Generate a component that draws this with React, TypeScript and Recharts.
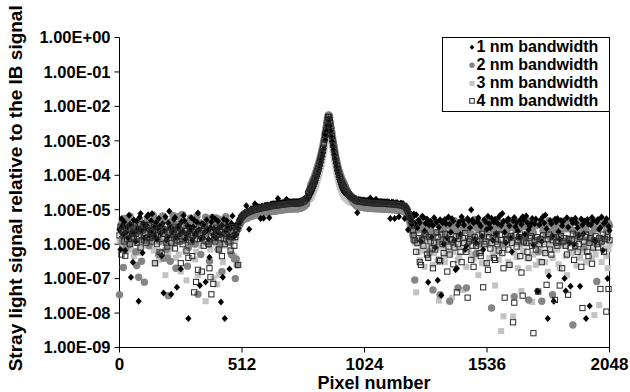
import React from 'react';
import { ScatterChart, Scatter, XAxis, YAxis, Legend, ReferenceLine } from 'recharts';

// Pixel numbers (x) shared by the four series
const pixelNumbers = [
  0, 4, 8, 12, 16, 20, 24, 28, 32, 36, 40,
  44, 48, 52, 56, 60, 64, 68, 72, 76, 80, 84,
  88, 92, 96, 100, 104, 108, 112, 116, 120, 124, 128,
  132, 136, 140, 144, 148, 152, 156, 160, 164, 168, 172,
  176, 180, 184, 188, 192, 196, 200, 204, 208, 212, 216,
  220, 224, 228, 232, 236, 240, 244, 248, 252, 256, 260,
  264, 268, 272, 276, 280, 284, 288, 292, 296, 300, 304,
  308, 312, 316, 320, 324, 328, 332, 336, 340, 344, 348,
  352, 356, 360, 364, 368, 372, 376, 380, 384, 388, 392,
  396, 400, 404, 408, 412, 416, 420, 424, 428, 432, 436,
  440, 444, 448, 452, 456, 460, 464, 468, 472, 476, 480,
  484, 488, 492, 496, 500, 504, 508, 512, 516, 520, 524,
  530, 536, 542, 548, 554, 560, 566, 572, 578, 584, 590,
  596, 602, 608, 614, 620, 626, 632, 638, 644, 650, 656,
  662, 668, 674, 680, 686, 692, 698, 704, 710, 716, 722,
  728, 734, 740, 746, 752, 758, 764, 770, 776, 782,
  788, 791, 794, 797, 800, 803, 806, 809, 812, 815,
  818, 821, 824, 827, 830, 833, 836, 839, 842, 845,
  848, 851, 854, 857, 860, 863, 866, 869, 872,
  874,
  876, 879, 882, 885, 888, 891, 894, 897, 900, 903, 906,
  909, 912, 915, 918, 921, 924, 927, 930, 933, 936, 939,
  944, 949, 954, 959, 964, 969, 974, 979, 984, 989, 994,
  1000, 1006, 1012, 1018, 1024, 1030, 1036, 1042, 1048, 1054, 1060, 1066,
  1072, 1078, 1084, 1090, 1096, 1102, 1108, 1114, 1120, 1126, 1132, 1138,
  1144, 1150, 1156, 1162, 1168, 1174, 1180, 1186, 1192, 1198,
  1202, 1206, 1210, 1214, 1218, 1222, 1226, 1230, 1234,
  1240, 1245, 1250, 1255, 1260, 1265, 1270, 1275, 1280, 1285,
  1290, 1295, 1300, 1305, 1310, 1315, 1320, 1325, 1330, 1335,
  1340, 1345, 1350, 1355, 1360, 1365, 1370, 1375, 1380, 1385,
  1390, 1395, 1400, 1405, 1410, 1415, 1420, 1425, 1430, 1435,
  1440, 1445, 1450, 1455, 1460, 1465, 1470, 1475, 1480, 1485,
  1490, 1495, 1500, 1505, 1510, 1515, 1520, 1525, 1530, 1535,
  1540, 1545, 1550, 1555, 1560, 1565, 1570, 1575, 1580, 1585,
  1590, 1595, 1600, 1605, 1610, 1615, 1620, 1625, 1630, 1635,
  1640, 1645, 1650, 1655, 1660, 1665, 1670, 1675, 1680, 1685,
  1690, 1695, 1700, 1705, 1710, 1715, 1720, 1725, 1730, 1735,
  1740, 1745, 1750, 1755, 1760, 1765, 1770, 1775, 1780, 1785,
  1790, 1795, 1800, 1805, 1810, 1815, 1820, 1825, 1830, 1835,
  1840, 1845, 1850, 1855, 1860, 1865, 1870, 1875, 1880, 1885,
  1890, 1895, 1900, 1905, 1910, 1915, 1920, 1925, 1930, 1935,
  1940, 1945, 1950, 1955, 1960, 1965, 1970, 1975, 1980, 1985,
  1990, 1995, 2000, 2005, 2010, 2015, 2020, 2025, 2030, 2035,
  2040, 2044, 2048,
];

// 1 nm bandwidth
const bandwidth1nm = [
  2.6e-6, 7.0e-7, 5.5e-6, 3.4e-6, 1.9e-6, 4.4e-6, 6.5e-7, 2.2e-6, 3.1e-6, 1.5e-6, 6.9e-6,
  3.8e-6, 1.1e-7, 2.0e-6, 3.0e-7, 5.0e-6, 2.2e-6, 1.2e-6, 4.6e-6, 2.8e-6, 2.2e-8, 6.0e-6,
  7.8e-6, 2.5e-6, 5.6e-7, 4.0e-6, 1.5e-6, 2.9e-6, 3.6e-6, 6.4e-6, 7.2e-6, 1.8e-6, 2.4e-6,
  4.8e-6, 7.6e-6, 2.0e-6, 1.7e-6, 3.2e-6, 4.2e-6, 1.4e-6, 2.9e-6, 5.6e-6, 3.3e-6, 2.1e-6,
  4.6e-7, 3.9e-6, 3.8e-8, 2.5e-6, 6.2e-6, 1.3e-6, 1.6e-6, 4.1e-6, 9.0e-6, 3.0e-6, 3.5e-8,
  2.3e-6, 2.7e-6, 5.2e-6, 5.9e-6, 1.6e-6, 5.6e-8, 3.1e-6, 3.4e-6, 1.9e-6, 1.9e-7, 4.5e-6,
  2.3e-6, 6.8e-6, 4.8e-6, 1.4e-6, 1.9e-6, 3.5e-6, 7.0e-9, 2.4e-6, 3.0e-6, 5.8e-6, 1.3e-6,
  3.2e-6, 5.0e-6, 1.8e-6, 2.1e-6, 4.3e-6, 8.0e-6, 2.6e-6, 6.3e-8, 1.5e-6, 3.9e-6, 1.6e-6,
  3.7e-6, 2.2e-6, 8.0e-8, 5.1e-6, 2.6e-6, 1.4e-6, 4.2e-7, 3.0e-6, 4.4e-6, 6.1e-6, 1.8e-6,
  2.7e-6, 5.4e-6, 1.5e-6, 2.3e-6, 4.6e-6, 3.0e-6, 1.9e-6, 2.1e-8, 3.5e-6, 1.1e-7, 5.3e-6,
  7.0e-9, 2.4e-6, 4.8e-6, 3.3e-6, 1.7e-6, 1.9e-7, 2.9e-6, 4.0e-6, 6.6e-6, 1.6e-6, 2.0e-6,
  3.5e-6, 1.9e-6, 4.0e-6, 2.9e-6, 5.2e-6, 4.4e-6, 6.6e-6, 6.0e-6, 7.5e-6, 7.0e-6, 8.4e-6,
  1.3e-5, 9.5e-6, 2.7e-6, 1.05e-5, 1.07e-5, 1.13e-5, 1.5e-5, 1.17e-5, 1.21e-5, 1.23e-5, 5.6e-6,
  1.29e-5, 5.7e-6, 1.35e-5, 1.35e-5, 1.38e-5, 5.8e-6, 1.45e-5, 1.48e-5, 1.48e-5, 1.52e-5, 1.52e-5,
  2.1e-5, 1.59e-5, 1.59e-5, 1.62e-5, 1.62e-5, 1.67e-5, 2.0e-5, 1.7e-5, 1.7e-5, 1.7e-5, 1.7e-5,
  1.74e-5, 1.74e-5, 1.74e-5, 1.74e-5, 1.78e-5, 1.82e-5, 1.91e-5, 2.0e-5, 2.14e-5, 2.4e-5,
  2.1e-5, 2.3e-5, 2.5e-5, 2.75e-5, 3.0e-5, 3.3e-5, 3.7e-5, 4.2e-5, 4.7e-5, 5.4e-5,
  6.1e-5, 7.1e-5, 8.3e-5, 9.5e-5, 1.12e-4, 1.32e-4, 1.58e-4, 1.9e-4, 2.34e-4, 2.9e-4,
  3.5e-4, 4.5e-4, 5.9e-4, 1.66e-3, 1.05e-3, 1.41e-3, 2.0e-3, 2.8e-3, 4.0e-3,
  4.4e-3,
  4.0e-3, 2.75e-3, 1.9e-3, 1.34e-3, 9.8e-4, 7.2e-4, 5.4e-4, 4.0e-4, 3.0e-4, 2.29e-4, 1.78e-4,
  1.38e-4, 1.1e-4, 9.1e-5, 7.6e-5, 6.5e-5, 5.6e-5, 4.9e-5, 4.3e-5, 3.9e-5, 3.5e-5, 3.2e-5,
  3.0e-5, 2.75e-5, 2.6e-5, 2.43e-5, 2.34e-5, 2.26e-5, 2.22e-5, 2.18e-5, 2.14e-5, 2.07e-5, 8.1e-6,
  2.0e-5, 1.96e-5, 1.93e-5, 1.91e-5, 1.89e-5, 1.86e-5, 1.84e-5, 1.82e-5, 2.2e-5, 1.78e-5, 1.78e-5, 1.78e-5,
  2.0e-5, 1.74e-5, 1.74e-5, 1.74e-5, 1.73e-5, 1.7e-5, 1.7e-5, 1.7e-5, 1.69e-5, 1.67e-5, 5.6e-6, 1.67e-5,
  1.64e-5, 5.6e-6, 1.61e-5, 1.59e-5, 6.3e-6, 1.55e-5, 1.53e-5, 1.48e-5, 5.6e-6, 1.29e-5,
  1.05e-5, 2.6e-6, 7.8e-6, 6.3e-6, 5.0e-6, 3.7e-6, 6.0e-6, 7.5e-6, 4.0e-6,
  7.2e-6, 3.0e-6, 5.0e-6, 4.2e-6, 1.2e-6, 6.5e-6, 6.0e-6, 2.4e-6, 4.0e-6, 5.4e-6,
  7.9e-8, 3.6e-6, 4.6e-6, 1.6e-6, 3.5e-6, 5.8e-6, 8.0e-7, 4.3e-6, 8.9e-8, 3.1e-6,
  5.1e-6, 3.3e-8, 4.2e-6, 1.0e-6, 5.2e-6, 3.9e-6, 1.5e-6, 6.1e-6, 3.8e-6, 2.2e-6,
  5.5e-6, 4.7e-6, 1.3e-6, 1.8e-7, 2.0e-7, 3.6e-6, 4.4e-6, 1.9e-6, 6.3e-6, 4.9e-6,
  3.6e-6, 7.0e-7, 9.0e-7, 5.6e-6, 4.8e-6, 3.0e-6, 1.0e-5, 5.0e-6, 4.1e-6, 1.4e-6,
  1.1e-6, 4.6e-6, 5.8e-6, 3.8e-6, 3.3e-6, 1.7e-6, 6.9e-7, 5.2e-6, 4.5e-6, 2.7e-6,
  6.5e-6, 3.9e-6, 3.0e-6, 5.7e-6, 1.3e-6, 4.4e-6, 5.3e-6, 2.0e-6, 4.0e-6, 6.0e-6,
  6.8e-6, 3.5e-6, 7.8e-6, 4.6e-6, 2.2e-6, 1.1e-6, 4.7e-6, 5.5e-6, 3.4e-6, 1.5e-6,
  6.0e-7, 4.8e-6, 5.9e-6, 3.2e-6, 4.3e-6, 2.4e-6, 1.6e-6, 5.0e-6, 3.7e-6, 6.2e-6,
  5.1e-6, 1.9e-6, 6.6e-6, 4.2e-6, 2.6e-6, 3.3e-6, 4.0e-6, 5.6e-6, 9.5e-7, 3.9e-6,
  5.4e-6, 4.4e-8, 4.2e-8, 3.6e-6, 5.0e-6, 1.2e-6, 6.3e-6, 4.1e-6, 7.0e-6, 2.8e-6,
  7.0e-9, 1.2e-7, 4.8e-6, 3.9e-6, 1.7e-6, 2.2e-8, 5.3e-6, 4.4e-6, 5.6e-6, 2.3e-6,
  1.4e-6, 4.9e-6, 3.4e-6, 4.6e-6, 1.0e-7, 4.4e-8, 5.8e-6, 3.1e-6, 1.1e-6, 6.0e-8,
  5.0e-6, 4.2e-6, 1.0e-6, 5.7e-6, 4.1e-6, 3.0e-6, 1.8e-6, 6.0e-8, 5.4e-6, 3.6e-6,
  2.0e-6, 4.7e-6, 7.0e-9, 5.2e-6, 3.8e-6, 1.6e-8, 3.6e-6, 5.9e-6, 4.8e-6, 1.3e-6,
  1.2e-6, 4.5e-6, 5.2e-6, 2.7e-6, 3.0e-6, 6.1e-6, 6.5e-7, 4.0e-6, 4.3e-6, 5.5e-6,
  1.0e-7, 3.3e-6, 2.5e-6,
];

// 2 nm bandwidth
const bandwidth2nm = [
  3.4e-8, 2.8e-6, 3.8e-6, 1.2e-6, 2.1e-7, 5.6e-6, 4.5e-6, 8.0e-7, 2.4e-6, 3.5e-6, 1.0e-6,
  6.5e-6, 5.2e-6, 1.6e-6, 3.0e-6, 4.2e-6, 1.9e-6, 6.0e-7, 2.4e-7, 3.3e-6, 1.1e-7, 5.0e-6,
  2.2e-6, 3.2e-7, 4.0e-6, 1.4e-6, 7.9e-8, 2.6e-6, 2.7e-6, 5.8e-6, 5.0e-6, 9.0e-7, 1.4e-6,
  3.9e-6, 3.3e-6, 7.0e-6, 6.0e-6, 1.7e-6, 2.2e-6, 4.8e-6, 4.4e-6, 5.0e-7, 1.2e-6, 2.9e-6,
  3.6e-6, 6.6e-6, 3.9e-7, 5.5e-6, 2.0e-6, 7.0e-7, 3.9e-7, 3.2e-8, 4.3e-6, 3.2e-7, 1.8e-6,
  4.8e-6, 6.8e-6, 2.9e-6, 1.1e-6, 2.0e-7, 3.7e-6, 6.3e-6, 2.1e-6, 2.5e-6, 5.3e-6, 7.2e-6,
  7.2e-6, 1.3e-6, 1.7e-6, 4.0e-6, 4.1e-6, 2.3e-7, 8.0e-7, 3.4e-6, 5.7e-6, 2.6e-6, 1.9e-6,
  4.5e-6, 5.1e-6, 1.0e-6, 2.7e-6, 6.5e-6, 3.5e-8, 2.3e-6, 4.2e-6, 5.0e-7, 1.5e-6, 3.8e-6,
  3.1e-6, 2.0e-6, 6.1e-6, 4.9e-6, 2.2e-6, 1.0e-6, 3.2e-7, 2.9e-6, 4.6e-6, 6.0e-6, 1.3e-6,
  2.4e-6, 3.7e-6, 5.8e-6, 2.6e-6, 7.0e-7, 5.3e-6, 1.0e-6, 3.5e-6, 1.6e-7, 2.0e-6, 4.0e-6,
  3.3e-6, 6.3e-6, 2.0e-6, 1.2e-6, 4.4e-6, 2.8e-6, 1.1e-6, 5.0e-7, 2.8e-6, 3.1e-6, 3.7e-7,
  1.0e-7, 3.7e-7, 2.5e-7, 2.8e-6, 3.3e-6, 3.8e-6, 4.3e-6, 4.7e-6, 5.0e-6, 5.3e-6, 5.5e-6,
  5.5e-6, 5.8e-6, 6.1e-6, 6.4e-6, 6.5e-6, 6.9e-6, 7.0e-6, 7.1e-6, 7.4e-6, 7.5e-6, 7.7e-6,
  7.8e-6, 8.1e-6, 8.2e-6, 8.2e-6, 8.4e-6, 8.6e-6, 8.8e-6, 9.0e-6, 9.0e-6, 9.2e-6, 9.2e-6,
  9.5e-6, 9.7e-6, 9.7e-6, 9.9e-6, 9.9e-6, 1.02e-5, 1.02e-5, 1.04e-5, 1.04e-5, 1.04e-5, 1.04e-5,
  1.06e-5, 1.06e-5, 1.06e-5, 1.06e-5, 1.09e-5, 1.11e-5, 1.16e-5, 1.22e-5, 1.3e-5, 1.46e-5,
  2.2e-5, 2.8e-5, 3.5e-5, 4.4e-5, 5.3e-5, 5.8e-5, 6.6e-5, 7.4e-5, 8.3e-5, 9.5e-5,
  1.08e-4, 1.25e-4, 1.47e-4, 1.68e-4, 1.98e-4, 2.3e-4, 2.8e-4, 3.4e-4, 4.1e-4, 5.1e-4,
  6.3e-4, 7.9e-4, 1.04e-3, 1.37e-3, 1.85e-3, 2.5e-3, 3.5e-3, 4.7e-3, 5.5e-3,
  5.6e-3,
  5.5e-3, 4.9e-3, 3.4e-3, 2.4e-3, 1.72e-3, 1.28e-3, 9.5e-4, 7.1e-4, 5.3e-4, 4.0e-4, 3.1e-4,
  2.4e-4, 1.94e-4, 1.6e-4, 1.34e-4, 1.14e-4, 9.9e-5, 8.6e-5, 7.7e-5, 6.9e-5, 6.3e-5, 5.7e-5,
  4.7e-5, 3.9e-5, 3.3e-5, 2.8e-5, 2.34e-5, 2.04e-5, 1.8e-5, 1.6e-5, 1.45e-5, 1.33e-5, 1.25e-5,
  1.22e-5, 1.19e-5, 1.18e-5, 1.16e-5, 1.15e-5, 1.13e-5, 1.12e-5, 1.11e-5, 1.1e-5, 1.09e-5, 1.09e-5, 1.09e-5,
  1.07e-5, 1.06e-5, 1.06e-5, 1.06e-5, 1.05e-5, 1.04e-5, 1.04e-5, 1.04e-5, 1.03e-5, 1.02e-5, 1.02e-5, 1.02e-5,
  1.0e-5, 9.9e-6, 9.8e-6, 9.7e-6, 9.6e-6, 9.5e-6, 9.3e-6, 9.0e-6, 8.6e-6, 7.8e-6,
  7.0e-6, 6.1e-6, 5.2e-6, 4.2e-6, 3.4e-6, 2.5e-6, 1.8e-6, 1.3e-6, 9.1e-8,
  3.2e-6, 4.3e-6, 2.6e-6, 3.0e-6, 5.0e-6, 1.5e-6, 3.8e-6, 1.9e-6, 4.6e-6, 2.9e-6,
  3.6e-6, 6.0e-7, 2.5e-6, 3.9e-6, 4.7e-8, 2.0e-6, 3.9e-6, 4.4e-6, 2.2e-6, 1.2e-6,
  3.4e-8, 4.5e-6, 2.8e-6, 1.3e-6, 3.2e-6, 4.1e-6, 2.0e-6, 5.0e-6, 2.2e-8, 3.4e-6,
  2.7e-6, 1.1e-6, 4.8e-6, 3.0e-6, 2.3e-6, 5.4e-8, 1.8e-6, 4.2e-6, 3.5e-6, 2.5e-6,
  2.4e-6, 4.6e-6, 5.4e-8, 3.1e-6, 4.0e-6, 1.4e-6, 2.0e-6, 3.7e-6, 3.3e-6, 5.2e-6,
  5.3e-7, 2.9e-6, 4.4e-6, 1.0e-6, 2.8e-6, 3.6e-6, 1.5e-6, 4.3e-6, 3.9e-6, 2.1e-6,
  2.3e-6, 4.0e-6, 4.6e-6, 1.4e-8, 2.4e-6, 3.0e-6, 4.8e-6, 2.0e-6, 1.2e-6, 3.4e-6,
  4.2e-6, 2.6e-6, 1.0e-6, 3.8e-6, 3.6e-6, 4.4e-6, 2.5e-6, 1.7e-6, 4.9e-6, 3.1e-6,
  1.7e-6, 4.1e-6, 3.0e-8, 2.7e-6, 3.8e-6, 4.6e-6, 2.6e-6, 1.1e-6, 4.5e-6, 3.2e-6,
  1.2e-6, 3.5e-6, 3.2e-6, 4.7e-6, 2.4e-8, 2.2e-6, 4.1e-6, 2.9e-6, 2.1e-6, 4.0e-6,
  3.4e-6, 1.3e-6, 6.0e-7, 4.2e-6, 4.3e-6, 2.2e-8, 2.5e-6, 2.9e-6, 3.7e-6, 1.8e-6,
  3.9e-6, 4.8e-6, 1.6e-6, 2.4e-6, 3.4e-8, 3.6e-6, 4.4e-6, 1.9e-6, 2.5e-6, 4.0e-6,
  3.6e-6, 2.1e-6, 1.1e-6, 4.3e-6, 4.7e-6, 3.0e-6, 2.8e-6, 1.4e-6, 3.3e-6, 4.9e-6,
  2.6e-6, 4.5e-9, 2.4e-6, 4.6e-6, 4.2e-6, 1.5e-6, 1.9e-6, 3.4e-6, 3.7e-6, 2.2e-6,
  8.0e-7, 3.9e-6, 2.6e-6, 4.4e-6, 4.6e-6, 1.3e-6, 2.0e-6, 3.8e-6, 3.5e-6, 2.7e-6,
  4.7e-6, 8.3e-8, 2.8e-6, 3.3e-6, 4.1e-6, 1.2e-6, 1.5e-6, 4.5e-6, 3.8e-6, 2.4e-6,
  2.3e-6, 4.0e-6, 3.4e-6,
];

// 3 nm bandwidth
const bandwidth3nm = [
  1.3e-6, 2.6e-6, 2.1e-6, 1.0e-6, 9.0e-7, 1.8e-6, 3.0e-6, 6.0e-7, 1.6e-6, 2.2e-6, 2.5e-6,
  1.1e-6, 7.0e-7, 2.0e-6, 1.9e-6, 4.5e-7, 3.4e-6, 1.5e-6, 1.2e-6, 2.7e-6, 2.3e-6, 8.0e-7,
  5.6e-7, 1.4e-6, 1.7e-6, 3.0e-6, 2.8e-6, 9.0e-7, 1.0e-6, 1.6e-6, 2.0e-6, 2.4e-6, 3.2e-6,
  1.2e-6, 1.4e-6, 2.1e-6, 6.5e-7, 1.9e-6, 2.7e-7, 1.1e-6, 2.2e-6, 3.5e-7, 1.5e-6, 2.6e-6,
  3.1e-6, 1.3e-6, 1.1e-6, 2.0e-6, 1.26e-7, 1.7e-6, 2.4e-6, 5.5e-7, 1.6e-6, 1.0e-6, 8.0e-7,
  2.3e-6, 2.9e-6, 1.8e-6, 1.3e-6, 4.0e-7, 2.0e-6, 1.2e-6, 5.0e-7, 2.2e-6, 1.6e-7, 1.5e-6,
  2.6e-6, 3.0e-6, 1.2e-6, 6.0e-7, 8.9e-8, 2.5e-6, 1.8e-6, 1.1e-6, 3.0e-6, 2.1e-6, 1.0e-6,
  1.4e-6, 2.3e-6, 3.6e-7, 6.0e-7, 1.7e-6, 1.26e-7, 2.8e-6, 1.5e-6, 9.0e-7, 2.7e-6, 1.9e-6,
  1.1e-6, 2.4e-6, 2.2e-8, 1.3e-6, 2.0e-6, 2.6e-6, 3.3e-6, 7.0e-7, 1.2e-6, 2.1e-6, 1.0e-7,
  1.6e-6, 2.5e-6, 1.0e-6, 6.8e-8, 2.2e-6, 1.26e-7, 1.4e-6, 1.7e-6, 2.9e-6, 3.0e-7, 1.8e-6,
  9.0e-7, 2.6e-6, 2.1e-6, 1.2e-6, 1.4e-6, 2.4e-6, 3.0e-6, 7.0e-7, 1.8e-6, 2.2e-6, 4.5e-7,
  1.4e-6, 1.9e-6, 2.4e-6, 3.0e-6, 3.6e-6, 4.2e-6, 4.8e-6, 5.2e-6, 5.6e-6, 6.0e-6, 6.2e-6,
  6.5e-6, 6.8e-6, 7.1e-6, 7.5e-6, 7.6e-6, 8.0e-6, 8.2e-6, 8.4e-6, 8.6e-6, 8.8e-6, 9.0e-6,
  9.2e-6, 9.4e-6, 9.6e-6, 9.6e-6, 9.8e-6, 1.01e-5, 1.03e-5, 1.06e-5, 1.06e-5, 1.08e-5, 1.08e-5,
  1.11e-5, 1.13e-5, 1.13e-5, 1.16e-5, 1.16e-5, 1.19e-5, 1.19e-5, 1.21e-5, 1.21e-5, 1.21e-5, 1.21e-5,
  1.24e-5, 1.24e-5, 1.24e-5, 1.24e-5, 1.27e-5, 1.3e-5, 1.36e-5, 1.43e-5, 1.53e-5, 1.71e-5,
  1.96e-5, 2.0e-5, 2.07e-5, 2.1e-5, 2.2e-5, 2.4e-5, 2.7e-5, 3.0e-5, 3.4e-5, 3.9e-5,
  4.5e-5, 5.1e-5, 6.1e-5, 6.9e-5, 8.2e-5, 9.6e-5, 1.15e-4, 1.39e-4, 1.7e-4, 2.1e-4,
  2.6e-4, 3.3e-4, 4.3e-4, 5.6e-4, 7.6e-4, 1.03e-3, 1.45e-3, 2.05e-3, 2.9e-3,
  3.6e-3,
  2.9e-3, 2.0e-3, 1.39e-3, 9.8e-4, 7.1e-4, 5.3e-4, 3.9e-4, 2.9e-4, 2.2e-4, 1.67e-4, 1.3e-4,
  1.0e-4, 8.0e-5, 6.6e-5, 5.5e-5, 4.7e-5, 4.1e-5, 3.6e-5, 3.2e-5, 2.83e-5, 2.59e-5, 2.36e-5,
  2.17e-5, 1.99e-5, 1.87e-5, 1.76e-5, 1.68e-5, 1.62e-5, 1.59e-5, 1.56e-5, 1.53e-5, 1.47e-5, 1.46e-5,
  1.43e-5, 1.39e-5, 1.38e-5, 1.36e-5, 1.34e-5, 1.33e-5, 1.31e-5, 1.3e-5, 1.29e-5, 1.27e-5, 1.27e-5, 1.27e-5,
  1.25e-5, 1.24e-5, 1.24e-5, 1.24e-5, 1.23e-5, 1.21e-5, 1.21e-5, 1.21e-5, 1.21e-5, 1.19e-5, 1.19e-5, 1.19e-5,
  1.17e-5, 1.16e-5, 1.15e-5, 1.13e-5, 1.12e-5, 1.11e-5, 1.09e-5, 1.06e-5, 1.01e-5, 9.2e-6,
  8.2e-6, 7.1e-6, 6.1e-6, 4.9e-6, 3.9e-6, 2.9e-6, 2.0e-6, 1.5e-6, 1.1e-6,
  4.0e-8, 1.0e-6, 6.0e-7, 3.5e-7, 1.4e-6, 9.0e-7, 6.5e-7, 2.2e-7, 2.0e-6, 1.2e-6,
  4.0e-7, 7.5e-7, 1.1e-6, 1.5e-6, 2.5e-7, 5.5e-7, 9.5e-7, 1.3e-6, 3.0e-7, 2.3e-8,
  8.0e-7, 1.2e-6, 1.6e-6, 4.5e-7, 3.0e-7, 7.0e-7, 1.2e-6, 1.0e-6, 5.5e-7, 1.4e-6,
  2.8e-8, 6.0e-7, 9.0e-7, 1.5e-6, 1.8e-6, 3.5e-7, 4.5e-7, 1.1e-6, 8.0e-7, 4.7e-8,
  1.3e-6, 7.0e-7, 2.2e-7, 1.0e-6, 7.0e-7, 1.6e-6, 1.5e-6, 5.0e-7, 3.8e-7, 1.2e-6,
  1.0e-6, 6.0e-7, 1.26e-7, 1.4e-6, 6.0e-7, 2.8e-7, 1.7e-6, 9.0e-7, 2.8e-7, 1.1e-6,
  9.5e-7, 4.0e-7, 1.2e-6, 1.5e-6, 5.0e-7, 7.5e-7, 6.3e-8, 1.3e-6, 1.4e-6, 3.5e-7,
  6.0e-7, 3.0e-9, 1.0e-6, 8.0e-9, 7.5e-7, 1.6e-6, 1.1e-6, 3.0e-7, 2.5e-7, 1.2e-6,
  1.6e-6, 8.0e-9, 5.5e-7, 1.0e-6, 4.2e-7, 2.0e-7, 1.3e-6, 8.5e-7, 4.4e-8, 6.0e-7,
  6.5e-7, 1.4e-6, 1.0e-6, 3.8e-7, 2.0e-7, 1.1e-6, 1.5e-6, 2.1e-8, 5.0e-7, 9.0e-7,
  2.5e-7, 1.2e-6, 1.0e-6, 3.2e-7, 8.5e-7, 1.4e-6, 1.6e-6, 6.0e-7, 3.0e-7, 1.1e-6,
  1.6e-7, 8.0e-7, 1.1e-6, 1.5e-6, 4.0e-7, 7.0e-7, 1.4e-6, 1.0e-6, 7.0e-7, 2.6e-7,
  2.0e-7, 9.0e-7, 1.3e-6, 1.2e-6, 9.0e-7, 4.5e-7, 1.26e-7, 1.0e-6, 1.5e-6, 6.0e-7,
  5.5e-7, 1.2e-6, 1.0e-6, 7.0e-7, 2.4e-7, 1.5e-6, 1.7e-6, 4.0e-7, 6.0e-7, 1.3e-6,
  1.2e-6, 6.5e-7, 3.0e-7, 1.1e-6, 9.5e-7, 1.6e-6, 1.4e-6, 4.0e-7, 7.0e-7, 8.7e-9,
  5.0e-7, 1.2e-6, 1.1e-6, 1.7e-8, 1.5e-6, 3.0e-7, 8.0e-7, 1.3e-6, 1.5e-6, 4.5e-7,
  2.0e-7, 7.0e-7, 1.0e-6,
];

// 4 nm bandwidth
const bandwidth4nm = [
  1.8e-6, 3.2e-6, 5.0e-7, 2.4e-6, 1.9e-6, 1.2e-6, 4.6e-7, 3.0e-6, 1.4e-6, 2.0e-6, 2.7e-6,
  1.0e-6, 3.5e-6, 1.6e-6, 2.2e-6, 1.5e-6, 3.0e-6, 2.0e-6, 1.1e-6, 2.8e-6, 1.7e-6, 3.8e-6,
  8.0e-7, 1.3e-6, 2.5e-6, 3.4e-6, 1.3e-6, 2.1e-6, 1.1e-6, 2.9e-6, 1.6e-6, 3.6e-6, 1.5e-6,
  2.4e-6, 1.2e-6, 2.3e-6, 3.1e-6, 2.8e-7, 1.8e-6, 1.0e-6, 2.6e-6, 1.9e-6, 6.0e-7, 3.3e-6,
  5.6e-7, 1.4e-6, 2.7e-6, 2.0e-6, 3.5e-6, 1.1e-6, 8.5e-7, 2.2e-6, 1.5e-6, 3.0e-6, 1.1e-6,
  2.5e-6, 1.9e-6, 3.2e-6, 7.5e-7, 1.6e-6, 1.3e-6, 2.9e-6, 2.1e-6, 1.2e-6, 2.8e-7, 2.3e-6,
  1.0e-6, 3.7e-6, 1.7e-6, 2.4e-6, 6.5e-7, 2.0e-6, 4.0e-7, 1.3e-6, 2.6e-6, 1.2e-6, 4.5e-7,
  1.8e-6, 4.0e-8, 2.2e-6, 8.0e-8, 1.4e-6, 1.8e-7, 3.1e-6, 1.4e-6, 2.0e-6, 1.6e-7, 2.5e-6,
  9.0e-7, 3.4e-6, 1.7e-6, 1.2e-6, 2.7e-6, 1.0e-6, 2.0e-7, 1.1e-7, 3.5e-8, 2.4e-6, 7.0e-8,
  1.5e-6, 1.2e-6, 3.0e-6, 2.0e-6, 1.9e-6, 7.0e-7, 2.6e-6, 1.5e-6, 4.5e-7, 3.2e-6, 1.4e-6,
  1.0e-6, 2.2e-6, 1.8e-6, 2.9e-6, 1.2e-6, 1.6e-6, 6.5e-7, 2.5e-6, 1.6e-6, 3.1e-6, 9.0e-7,
  1.6e-6, 2.4e-6, 2.8e-6, 2.5e-7, 4.2e-6, 5.0e-6, 5.8e-6, 6.3e-6, 6.8e-6, 7.2e-6, 7.6e-6,
  7.9e-6, 8.3e-6, 8.7e-6, 9.1e-6, 9.3e-6, 9.8e-6, 1.0e-5, 1.02e-5, 1.05e-5, 1.07e-5, 1.1e-5,
  1.12e-5, 1.15e-5, 1.17e-5, 1.17e-5, 1.2e-5, 1.23e-5, 1.26e-5, 1.29e-5, 1.29e-5, 1.32e-5, 1.32e-5,
  1.35e-5, 1.38e-5, 1.38e-5, 1.41e-5, 1.41e-5, 1.45e-5, 1.45e-5, 1.48e-5, 1.48e-5, 1.48e-5, 1.48e-5,
  1.51e-5, 1.51e-5, 1.51e-5, 1.51e-5, 1.55e-5, 1.58e-5, 1.66e-5, 1.74e-5, 1.86e-5, 2.09e-5,
  2.9e-5, 3.2e-5, 3.5e-5, 3.9e-5, 4.3e-5, 4.7e-5, 5.2e-5, 5.9e-5, 6.6e-5, 7.6e-5,
  8.6e-5, 1.0e-4, 1.18e-4, 1.34e-4, 1.58e-4, 1.86e-4, 2.23e-4, 2.7e-4, 3.3e-4, 4.1e-4,
  5.0e-4, 6.3e-4, 8.3e-4, 1.09e-3, 1.48e-3, 2.0e-3, 2.8e-3, 3.9e-3, 4.9e-3,
  5.0e-3,
  4.9e-3, 3.9e-3, 2.7e-3, 1.9e-3, 1.38e-3, 1.02e-3, 7.6e-4, 5.6e-4, 4.3e-4, 3.2e-4, 2.5e-4,
  1.94e-4, 1.55e-4, 1.28e-4, 1.07e-4, 9.1e-5, 7.9e-5, 6.9e-5, 6.1e-5, 5.5e-5, 5.0e-5, 4.6e-5,
  4.0e-5, 3.5e-5, 3.1e-5, 2.8e-5, 2.57e-5, 2.37e-5, 2.22e-5, 2.08e-5, 1.95e-5, 1.84e-5, 1.78e-5,
  1.74e-5, 1.7e-5, 1.68e-5, 1.66e-5, 1.64e-5, 1.62e-5, 1.6e-5, 1.58e-5, 1.57e-5, 1.55e-5, 1.55e-5, 1.55e-5,
  1.53e-5, 1.51e-5, 1.51e-5, 1.51e-5, 1.5e-5, 1.48e-5, 1.48e-5, 1.48e-5, 1.47e-5, 1.45e-5, 1.45e-5, 1.45e-5,
  1.43e-5, 1.41e-5, 1.4e-5, 1.38e-5, 1.37e-5, 1.35e-5, 1.33e-5, 1.29e-5, 1.23e-5, 1.12e-5,
  1.0e-5, 8.7e-6, 7.4e-6, 6.0e-6, 4.8e-6, 3.5e-6, 2.5e-6, 1.8e-6, 1.3e-6,
  6.0e-7, 1.1e-6, 1.5e-6, 3.0e-7, 2.5e-7, 1.3e-6, 9.0e-7, 2.0e-6, 1.8e-6, 5.0e-7,
  4.0e-7, 1.6e-6, 1.2e-6, 7.5e-7, 2.0e-7, 1.1e-6, 7.0e-7, 2.2e-6, 1.6e-6, 3.5e-7,
  3.2e-7, 1.9e-6, 1.0e-6, 5.5e-7, 2.0e-6, 1.3e-6, 1.6e-7, 8.5e-7, 5.0e-7, 1.4e-6,
  1.3e-6, 2.6e-7, 8.0e-7, 1.7e-6, 4.0e-8, 1.0e-6, 1.7e-6, 6.0e-7, 3.0e-7, 1.5e-6,
  1.1e-6, 2.1e-6, 6.0e-7, 2.8e-8, 1.2e-6, 1.4e-6, 3.5e-7, 9.0e-7, 2.2e-7, 1.6e-6,
  9.0e-7, 1.2e-6, 1.8e-6, 5.5e-7, 4.5e-7, 2.0e-6, 5.6e-8, 1.0e-6, 1.2e-6, 2.8e-7,
  1.8e-7, 1.6e-6, 7.5e-7, 1.1e-6, 1.5e-6, 4.0e-7, 3.5e-7, 1.9e-6, 1.0e-6, 6.5e-7,
  1.9e-6, 1.3e-6, 5.5e-7, 2.0e-7, 2.8e-8, 1.4e-6, 1.3e-6, 7.0e-7, 2.5e-7, 1.7e-6,
  1.1e-6, 5.4e-9, 2.0e-8, 1.8e-6, 8.5e-7, 1.3e-6, 1.6e-6, 4.5e-7, 1.5e-7, 3.2e-8,
  1.2e-6, 1.9e-6, 1.1e-6, 6.0e-7, 4.0e-7, 1.5e-6, 1.7e-6, 9.0e-7, 2.6e-9, 1.3e-6,
  7.0e-7, 1.6e-6, 4.2e-8, 1.0e-6, 1.4e-6, 3.0e-7, 1.8e-6, 1.0e-6, 5.5e-7, 6.6e-8,
  1.4e-6, 1.9e-6, 7.0e-7, 5.0e-7, 1.3e-6, 1.6e-6, 2.4e-8, 1.1e-6, 9.0e-7, 1.2e-6,
  6.3e-8, 1.7e-6, 2.0e-7, 1.2e-6, 1.5e-6, 9.0e-7, 5.0e-7, 3.4e-8, 1.4e-6, 8.0e-7,
  1.3e-6, 2.0e-6, 3.5e-7, 9.0e-7, 1.8e-6, 6.0e-7, 1.0e-6, 1.6e-6, 2.2e-7, 1.4e-8,
  1.2e-6, 1.6e-6, 1.9e-6, 6.0e-7, 4.5e-7, 1.1e-6, 1.5e-6, 2.7e-7, 8.0e-7, 1.3e-6,
  1.7e-6, 1.0e-6, 8.0e-7, 1.5e-6, 5.0e-8, 1.2e-6, 1.9e-6, 6.0e-7, 1.4e-6, 1.1e-8,
  1.6e-6, 5.0e-8, 1.3e-6,
];

const seriesNames = ['1 nm bandwidth', '2 nm bandwidth', '3 nm bandwidth', '4 nm bandwidth'];
const xTicks = [0, 512, 1024, 1536, 2048];
const yTicks = [1e-9, 1e-8, 1e-7, 1e-6, 1e-5, 1e-4, 1e-3, 1e-2, 1e-1, 1];
const yTickLabels = ['1.00E-09', '1.00E-08', '1.00E-07', '1.00E-06', '1.00E-05', '1.00E-04', '1.00E-03', '1.00E-02', '1.00E-01', '1.00E+00'];
const xTitle = 'Pixel number';
const yTitle = 'Stray light signal relative to the IB signal';

const FONT = '"Liberation Sans", Arial, Helvetica, sans-serif';

function toPoints(values: number[]) {
  const pts: { x: number; y: number }[] = [];
  for (let i = 0; i < pixelNumbers.length; i++) {
    const v = values[i];
    if (typeof v === 'number' && v > 0) pts.push({ x: pixelNumbers[i], y: v });
  }
  return pts;
}

const pts1 = toPoints(bandwidth1nm);
const pts2 = toPoints(bandwidth2nm);
const pts3 = toPoints(bandwidth3nm);
const pts4 = toPoints(bandwidth4nm);

const Diamond = (p: any) => {
  const { cx, cy } = p;
  if (cx == null || cy == null) return <g />;
  return <path d={`M${cx},${cy - 3.5}L${cx + 3.1},${cy}L${cx},${cy + 3.5}L${cx - 3.1},${cy}Z`} fill="#000" />;
};
const Dot = (p: any) => {
  if (p.cx == null || p.cy == null) return <g />;
  return <circle cx={p.cx} cy={p.cy} r={3.7} fill="#858585" />;
};
const FilledSquare = (p: any) => {
  if (p.cx == null || p.cy == null) return <g />;
  return <rect x={p.cx - 3} y={p.cy - 3} width={6} height={6} fill="#c3c3c3" />;
};
const OpenSquare = (p: any) => {
  if (p.cx == null || p.cy == null) return <g />;
  return <rect x={p.cx - 2.6} y={p.cy - 2.6} width={5.2} height={5.2} fill="none" stroke="#2a2a2a" strokeWidth={1} />;
};

const XTitle = () => (
  <text x={374} y={389} textAnchor="middle" fontFamily={FONT} fontWeight={700} fontSize={18} fill="#000">
    {xTitle}
  </text>
);

const YTitle = () => (
  <text
    x={21.7}
    y={188.3}
    transform="rotate(-90, 21.7, 188.3)"
    textAnchor="middle"
    fontFamily={FONT}
    fontWeight={700}
    fontSize={18.5}
    textLength={366}
    lengthAdjust="spacingAndGlyphs"
    fill="#000"
  >
    {yTitle}
  </text>
);

const LegendBox = () => (
  <svg width={170} height={77} style={{ display: 'block' }}>
    <rect x={0.5} y={0.5} width={167} height={74} fill="#fff" stroke="#000" strokeWidth={1} />
    <path d="M30,7.8L32.4,10.3L30,12.8L27.6,10.3Z" fill="#000" />
    <circle cx={30} cy={28.2} r={2.7} fill="#858585" />
    <rect x={27.5} y={43.9} width={5} height={5} fill="#c3c3c3" />
    <rect x={27.7} y={61.6} width={4.6} height={4.6} fill="none" stroke="#2a2a2a" strokeWidth={1} />
    {seriesNames.map((n, i) => (
      <text key={n} x={34.5} y={15 + i * 18} fontFamily={FONT} fontWeight={700} fontSize={16} fill="#000">
        {n}
      </text>
    ))}
  </svg>
);

const yFormatter = (v: number) => {
  const idx = yTicks.findIndex((t) => Math.abs(Math.log10(t) - Math.log10(v)) < 0.01);
  return idx >= 0 ? yTickLabels[idx] : '';
};

export default function App() {
  return (
    <div style={{ position: 'absolute', left: 0, top: 0, width: 630, height: 392, background: '#fff' }}>
      <ScatterChart width={630} height={392} margin={{ top: 37.5, right: 20.5, bottom: 14.5, left: 0 }}>
        <XAxis
          type="number"
          dataKey="x"
          domain={[0, 2048]}
          ticks={xTicks}
          interval={0}
          height={30}
          tickSize={5}
          tickMargin={5}
          axisLine={{ stroke: '#000', strokeWidth: 1 }}
          tickLine={{ stroke: '#000', strokeWidth: 1 }}
          tick={{ fill: '#000', fontSize: 17, fontWeight: 700, fontFamily: FONT }}
          label={<XTitle />}
        />
        <YAxis
          type="number"
          dataKey="y"
          scale="log"
          domain={[1e-9, 1]}
          ticks={yTicks}
          interval={0}
          width={119.5}
          tickSize={5}
          tickMargin={4}
          tickFormatter={yFormatter}
          axisLine={{ stroke: '#000', strokeWidth: 1 }}
          tickLine={{ stroke: '#000', strokeWidth: 1 }}
          tick={{ fill: '#000', fontSize: 16.5, fontWeight: 700, fontFamily: FONT }}
          label={<YTitle />}
        />
        <ReferenceLine x={2048} stroke="#000" strokeWidth={1} />
        <Scatter name={seriesNames[2]} data={pts3} fill="#c3c3c3" shape={FilledSquare} isAnimationActive={false} />
        <Scatter name={seriesNames[1]} data={pts2} fill="#858585" shape={Dot} isAnimationActive={false} />
        <Scatter name={seriesNames[0]} data={pts1} fill="#000" shape={Diamond} isAnimationActive={false} />
        <Scatter name={seriesNames[3]} data={pts4} fill="#2a2a2a" shape={OpenSquare} isAnimationActive={false} />
        <Legend
          layout="vertical"
          align="center"
          verticalAlign="middle"
          content={() => <LegendBox />}
          wrapperStyle={{ position: 'absolute', left: 442, top: 37, width: 170, height: 77 }}
        />
      </ScatterChart>
    </div>
  );
}
